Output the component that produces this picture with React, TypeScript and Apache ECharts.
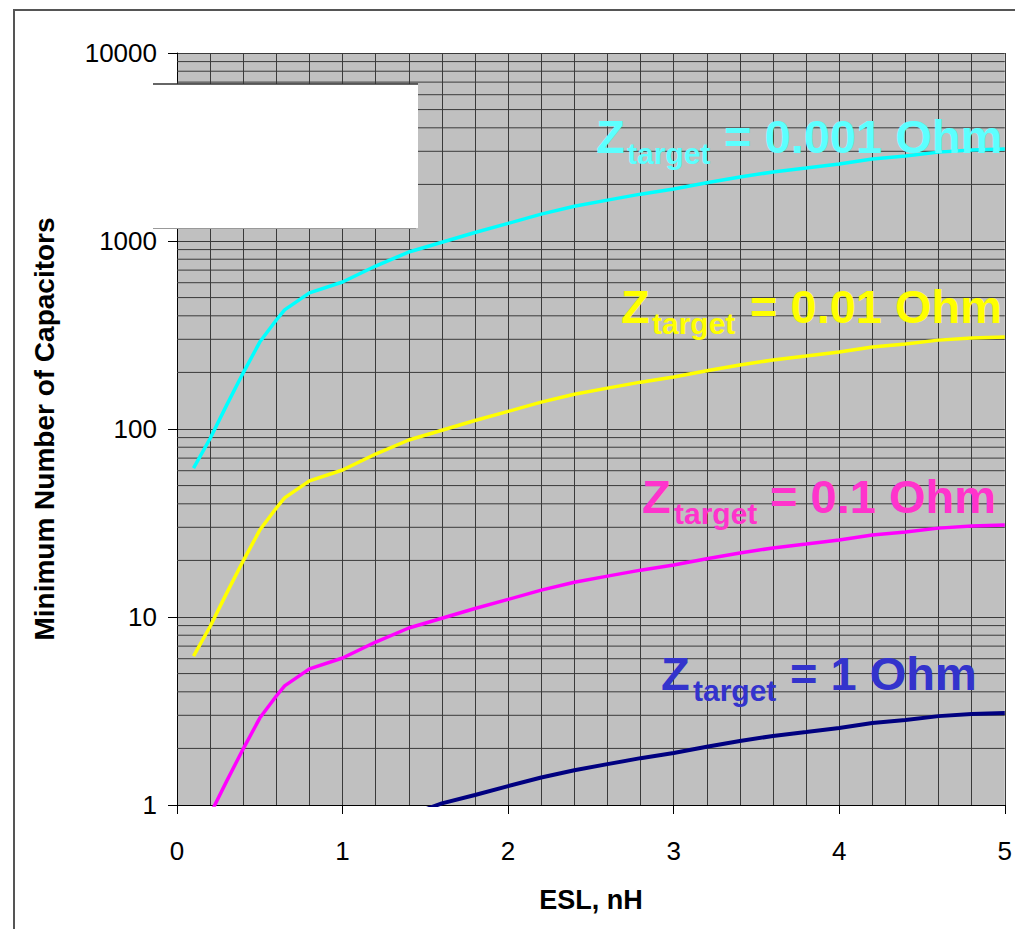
import React, { useEffect, useRef } from "react";
import * as echarts from "echarts";

// ESL in nH
const esl = [0.1, 0.2, 0.3, 0.4, 0.5, 0.6, 0.65, 0.8, 1.0, 1.2, 1.4, 1.6, 1.8, 2.0, 2.2, 2.4, 2.6, 2.8, 3.0, 3.2, 3.4, 3.6, 3.8, 4.0, 4.2, 4.4, 4.6, 4.8, 5.0];
// Minimum number of capacitors for each target impedance
const nZ0001 = [62, 89, 134, 199, 290, 380, 430, 530, 605, 736, 874, 985, 1110, 1240, 1390, 1530, 1650, 1775, 1890, 2040, 2190, 2330, 2445, 2570, 2730, 2830, 2970, 3050, 3090];
const nZ001 = [6.2, 8.9, 13.4, 19.9, 29, 38, 43, 53, 60.5, 73.6, 87.4, 98.5, 111, 124, 139, 153, 165, 177.5, 189, 204, 219, 233, 244.5, 257, 273, 283, 297, 305, 309];
const nZ01 = [0.62, 0.89, 1.34, 1.99, 2.9, 3.8, 4.3, 5.3, 6.05, 7.36, 8.74, 9.85, 11.1, 12.4, 13.9, 15.3, 16.5, 17.75, 18.9, 20.4, 21.9, 23.3, 24.45, 25.7, 27.3, 28.3, 29.7, 30.5, 30.9];
const nZ1 = [0.062, 0.089, 0.134, 0.199, 0.29, 0.38, 0.43, 0.53, 0.605, 0.736, 0.88, 1.02, 1.13, 1.26, 1.4, 1.53, 1.65, 1.775, 1.89, 2.04, 2.19, 2.33, 2.445, 2.57, 2.73, 2.83, 2.97, 3.05, 3.09];

const xTicks = [0, 1, 2, 3, 4, 5];
const yMinorLines = [2, 3, 4, 5, 6, 7, 8, 9, 20, 30, 40, 50, 60, 70, 80, 90, 200, 300, 400, 500, 600, 700, 800, 900, 2000, 3000, 4000, 5000, 6000, 7000, 8000, 9000];

const labelTexts = ["= 0.001 Ohm", "= 0.01 Ohm", "= 0.1 Ohm", "= 1 Ohm"];

const FONT = "'Liberation Sans', Arial, Helvetica, sans-serif";

export default function App() {
  const ref = useRef<HTMLDivElement>(null);
  useEffect(() => {
    document.body.style.margin = "0";
    if (!ref.current) return;
    const chart = echarts.init(ref.current, undefined, { renderer: "svg" });

    const gridColor = "#3a3a3a";
    const mk = (vals: number[]) => esl.map((x, i) => [x, vals[i]]);

    // label layout: [zLeft, targetLeft, restLeft, baseline, color]
    const labels: [number, number, number, number, string][] = [
      [596, 627, 724, 153, "#5cffff"],
      [621, 652, 750, 323, "#ffff00"],
      [642, 674, 770, 513, "#ff33cc"],
      [661, 693, 790, 690, "#3333cc"],
    ];
    const big = 47;
    const small = 30;
    const k = 0.3465;
    const labelGraphics: any[] = [];
    labels.forEach((l, i) => {
      const [zx, tx, rx, base, color] = l;
      labelGraphics.push(
        { type: "text", z: 50, x: zx, y: base - k * big, style: { text: "Z", fill: color, font: `bold ${big}px ${FONT}`, verticalAlign: "middle", align: "left" } },
        { type: "text", z: 50, x: tx, y: base + 11 - k * small, style: { text: "target", fill: color, font: `bold ${small}px ${FONT}`, verticalAlign: "middle", align: "left" } },
        { type: "text", z: 50, x: rx, y: base - k * big, style: { text: labelTexts[i], fill: color, font: `bold ${big}px ${FONT}`, verticalAlign: "middle", align: "left" } }
      );
    });

    const option: any = {
      animation: false,
      backgroundColor: "#ffffff",
      grid: {
        left: 177,
        right: 9,
        top: 53,
        bottom: 124,
        show: true,
        backgroundColor: "#c0c0c0",
        borderWidth: 0,
      },
      xAxis: {
        type: "value",
        min: xTicks[0],
        max: xTicks[xTicks.length - 1],
        interval: 1,
        name: "ESL, nH",
        nameLocation: "middle",
        nameGap: 81,
        nameTextStyle: { fontFamily: FONT, fontSize: 27, fontWeight: "bold", color: "#000" },
        axisLine: { show: true, onZero: false, lineStyle: { color: "#000", width: 1 } },
        axisTick: { show: true, length: 9, lineStyle: { color: "#000" } },
        axisLabel: { fontFamily: FONT, fontSize: 26, color: "#000", margin: 33 },
        splitLine: { show: true, lineStyle: { color: gridColor, width: 1 } },
        minorTick: { show: false, splitNumber: 5 },
        minorSplitLine: { show: true, lineStyle: { color: gridColor, width: 1 } },
      },
      yAxis: {
        type: "log",
        logBase: 10,
        min: 1,
        max: 10000,
        name: "Minimum Number of Capacitors",
        nameLocation: "middle",
        nameGap: 119,
        nameRotate: 90,
        nameTextStyle: { fontFamily: FONT, fontSize: 28, fontWeight: "bold", color: "#000" },
        axisLine: { show: true, lineStyle: { color: "#000", width: 1 } },
        axisTick: { show: true, length: 9, lineStyle: { color: "#000" } },
        axisLabel: { fontFamily: FONT, fontSize: 26, color: "#000", margin: 20, formatter: (v: number) => String(Math.round(v)) },
        splitLine: { show: true, lineStyle: { color: gridColor, width: 1 } },
      },
      series: [
        {
          type: "custom",
          z: 1,
          silent: true,
          coordinateSystem: "cartesian2d",
          encode: { x: 0, y: 1 },
          data: yMinorLines.map((v) => [0, v]),
          renderItem: (params: any, api: any) => {
            const v = api.value(1);
            const p1 = api.coord([xTicks[0], v]);
            const p2 = api.coord([xTicks[xTicks.length - 1], v]);
            return {
              type: "line",
              shape: { x1: p1[0], y1: p1[1], x2: p2[0], y2: p2[1] },
              style: { stroke: gridColor, lineWidth: 1 },
            };
          },
        },
        { type: "line", z: 3, data: mk(nZ0001), showSymbol: false, lineStyle: { color: "#00ffff", width: 3.5 }, itemStyle: { color: "#00ffff" } },
        { type: "line", z: 3, data: mk(nZ001), showSymbol: false, lineStyle: { color: "#ffff00", width: 3.5 }, itemStyle: { color: "#ffff00" } },
        { type: "line", z: 3, data: mk(nZ01), showSymbol: false, lineStyle: { color: "#ff00ff", width: 3.5 }, itemStyle: { color: "#ff00ff" } },
        { type: "line", z: 3, data: mk(nZ1), showSymbol: false, lineStyle: { color: "#000080", width: 4 }, itemStyle: { color: "#000080" } },
      ],
      graphic: [
        { type: "rect", z: -10, silent: true, shape: { x: 14, y: 10, width: 1200, height: 1200 }, style: { fill: "none", stroke: "#555", lineWidth: 2 } },
        { type: "rect", z: 100, silent: true, shape: { x: 155, y: 84, width: 263, height: 144 }, style: { fill: "#ffffff" } },
        { type: "line", z: 101, silent: true, shape: { x1: 153, y1: 84, x2: 418, y2: 84 }, style: { stroke: "#333", lineWidth: 1.5 } },
        { type: "line", z: 101, silent: true, shape: { x1: 153, y1: 228.5, x2: 416, y2: 228.5 }, style: { stroke: "#999", lineWidth: 1 } },
        ...labelGraphics,
      ],
    };
    chart.setOption(option);
    return () => chart.dispose();
  }, []);
  return <div ref={ref} style={{ width: 1015, height: 929 }} />;
}
